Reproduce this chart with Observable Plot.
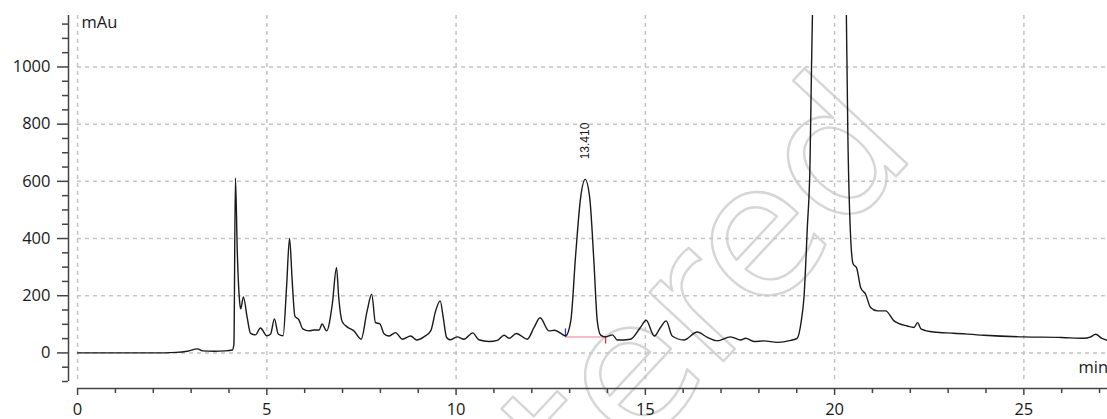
<!DOCTYPE html>
<html><head><meta charset="utf-8">
<script src="https://cdn.jsdelivr.net/npm/d3@7"></script>
<script src="https://cdn.jsdelivr.net/npm/@observablehq/plot@0.6"></script>
<style>
html,body{margin:0;padding:0;background:#fff;}
#chart svg{display:block;}
</style>
</head><body><div id="chart"></div>
<script>
// Retention time (min)
const time = [0,1.0,2.0,2.6,2.9,3.17,3.3,3.6,3.9,4.09,4.13,4.17,4.22,4.28,4.31,4.38,4.48,4.57,4.70,4.83,5.0,5.10,5.20,5.30,5.43,5.52,5.60,5.67,5.74,5.85,5.95,6.11,6.24,6.38,6.46,6.58,6.73,6.84,6.90,6.99,7.12,7.30,7.49,7.65,7.77,7.87,7.99,8.09,8.22,8.40,8.58,8.80,8.96,9.15,9.33,9.46,9.58,9.66,9.75,9.84,10.03,10.21,10.44,10.60,10.87,11.09,11.27,11.40,11.59,11.88,12.06,12.22,12.45,12.60,12.76,12.89,13.03,13.16,13.29,13.41,13.53,13.64,13.73,13.82,13.95,14.13,14.26,14.61,14.87,15.02,15.24,15.40,15.55,15.71,16.02,16.37,16.64,16.90,17.25,17.52,17.65,17.87,18.13,18.49,18.84,19.01,19.12,19.19,19.28,19.35,19.39,19.43,19.6,19.85,20.1,20.30,20.35,20.42,20.49,20.58,20.69,20.82,20.95,21.13,21.35,21.57,21.92,22.10,22.19,22.29,22.62,23.15,23.94,25.00,26.0,26.59,26.75,26.90,27.05,27.21];
// Absorbance (mAu)
const absorbance = [0,0,0,2,6,14,7,6,7,10,30,612,350,180,154,196,124,68,63,87,60,66,119,66,60,228,400,252,129,115,84,77,80,80,101,77,171,298,193,110,91,77,48,147,205,106,101,68,59,71,48,59,45,56,77,147,182,124,54,46,56,48,70,46,40,44,62,51,68,48,89,123,77,79,69,59,112,345,543,607,543,322,112,62,56,63,45,48,89,114,59,89,112,59,45,73,54,42,56,45,51,40,42,37,44,51,112,193,440,660,998,1300,2200,2600,2200,1300,765,415,311,298,228,205,159,147,147,112,94,89,106,83,73,69,62,56,54,51,55,65,52,44];

const xMajorTicks = [0,5,10,15,20,25];
const xMinorTicks = [1,2,3,4,6,7,8,9,11,12,13,14,16,17,18,19,21,22,23,24,26,27];
const yMajorTicks = [0,200,400,600,800,1000];
const yMinorTicks = [-100,-50,50,100,150,250,300,350,450,500,550,650,700,750,850,900,950,1050,1100,1150];

const peakTimes = [13.41];
const peakHeights = [607];
const peakLabels = ["13.410"];

const integrationStart = [12.89];
const integrationEnd = [13.95];
const integrationLevel = [56];

const xAxisTitle = ["min"];
const yAxisTitle = ["mAu"];
const watermarkText = ["tered"];

const trace = time.map((t, i) => ({t, v: absorbance[i]}));
const peaks = peakTimes.map((t, i) => ({t, v: peakHeights[i], label: peakLabels[i]}));
const integ = integrationStart.map((s, i) => ({s, e: integrationEnd[i], v: integrationLevel[i]}));

const xMin = -0.24, xMax = 27.21, yMin = -100, yMax = 1180;
const font = "'Open Sans', 'Noto Sans', sans-serif";
const axisColor = "#444";
const gridStyle = {stroke: "#c4c4c4", strokeOpacity: 1, strokeWidth: 1.5, strokeDasharray: "4,4"};

const chart = Plot.plot({
  width: 1107,
  height: 419,
  marginLeft: 68,
  marginRight: 0,
  marginTop: 15,
  marginBottom: 38,
  style: {fontFamily: font, fontSize: "16px", color: "#1a1a1a", background: "#fff", overflow: "hidden"},
  x: {domain: [xMin, xMax], axis: null},
  y: {domain: [yMin, yMax], axis: null},
  marks: [
    Plot.text(watermarkText, {text: d => d, frameAnchor: "top-left", dx: 640, dy: 275, rotate: -47,
      fontSize: 185, fontWeight: "normal", fontFamily: "'DejaVu Sans', sans-serif",
      fill: "none", stroke: "#d6d6d6", strokeWidth: 2.4, textAnchor: "middle", lineAnchor: "middle"}),
    Plot.gridX(xMajorTicks, gridStyle),
    Plot.gridY(yMajorTicks, {...gridStyle, insetLeft: 9}),
    // y axis
    Plot.ruleX([xMin], {stroke: axisColor, strokeWidth: 1.5}),
    Plot.axisY(yMajorTicks, {tickSize: 11, tickPadding: 7, label: null, tickFormat: d3.format("d"), stroke: axisColor, strokeWidth: 1.5, fill: "#1a1a1a", fontSize: 16.5}),
    Plot.axisY(yMinorTicks, {tickSize: 6, text: null, label: null, stroke: axisColor, strokeWidth: 1.5}),
    // x axis
    Plot.ruleY([yMin], {x1: 0, x2: xMax, dy: 7, stroke: axisColor, strokeWidth: 1.5}),
    Plot.axisX(xMajorTicks, {tickSize: 7, dy: 7, tickPadding: 8, label: null, stroke: axisColor, strokeWidth: 1.5, fill: "#1a1a1a", fontSize: 16.5}),
    Plot.axisX(xMinorTicks, {tickSize: 5, dy: 7, text: null, label: null, stroke: axisColor, strokeWidth: 1.5}),
    // integration baseline and markers
    Plot.ruleY(integ, {x1: "s", x2: "e", y: "v", stroke: "#f4a7b5", strokeWidth: 1.5}),
    Plot.ruleX(integ, {x: "s", y1: "v", y2: d => d.v + 28, stroke: "#2b3fd6", strokeWidth: 1.3}),
    Plot.ruleX(integ, {x: "e", y1: "v", y2: d => d.v - 25, stroke: "#e8283c", strokeWidth: 1.3}),
    // chromatogram
    Plot.line(trace, {x: "t", y: "v", curve: "monotone-x", stroke: "#1a1a1a", strokeWidth: 1.4, clip: true}),
    // peak label
    Plot.text(peaks, {x: "t", y: "v", text: "label", rotate: -90, textAnchor: "start", dy: -20,
      fontSize: 12, fontFamily: "'Liberation Sans', sans-serif", fill: "#1a1a1a"}),
    // axis titles
    Plot.text(yAxisTitle, {text: d => d, frameAnchor: "top-left", dx: 13, dy: 1, textAnchor: "start", fontSize: 16.5, fill: "#1a1a1a"}),
    Plot.text(xAxisTitle, {text: d => d, frameAnchor: "bottom-right", dx: -29, dy: -9, textAnchor: "start", fontSize: 16.5, fill: "#1a1a1a"})
  ]
});
document.getElementById("chart").appendChild(chart);
</script>
</body></html>
